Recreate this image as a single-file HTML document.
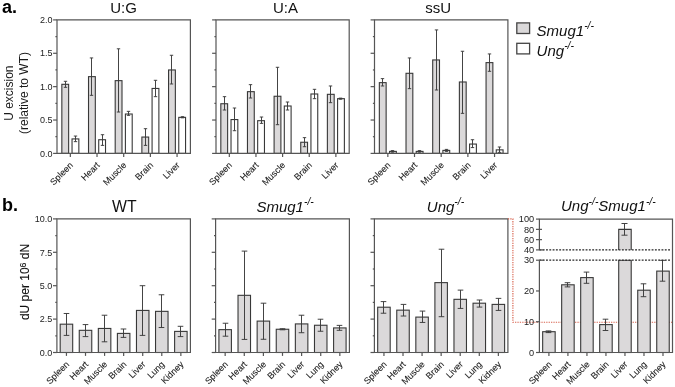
<!DOCTYPE html>
<html><head><meta charset="utf-8"><title>Figure</title>
<style>
html,body{margin:0;padding:0;background:#fff;}
svg{display:block;will-change:transform;font-family:"Liberation Sans", sans-serif;}
</style></head>
<body>
<svg width="675" height="387" viewBox="0 0 675 387">
<rect width="675" height="387" fill="#fff"/>
<text x="2" y="12.6" font-size="18" text-anchor="start" fill="#000" font-weight="bold">a.</text>
<text x="123.6" y="13.3" font-size="15" text-anchor="middle" fill="#111">U:G</text>
<rect x="61.84" y="84.31" width="6.8" height="69.09" fill="#dbd9da" stroke="#383838" stroke-width="1.1"/>
<rect x="72.04" y="138.92" width="6.8" height="14.48" fill="#fff" stroke="#383838" stroke-width="1.1"/>
<line x1="65.5" y1="87.32" x2="65.5" y2="81.31" stroke="#3a3a3a" stroke-width="0.95"/>
<line x1="63.8" y1="81.31" x2="67.2" y2="81.31" stroke="#3a3a3a" stroke-width="0.95"/>
<line x1="63.8" y1="87.32" x2="67.2" y2="87.32" stroke="#3a3a3a" stroke-width="0.95"/>
<line x1="75.5" y1="141.65" x2="75.5" y2="136.05" stroke="#3a3a3a" stroke-width="0.95"/>
<line x1="73.8" y1="136.05" x2="77.2" y2="136.05" stroke="#3a3a3a" stroke-width="0.95"/>
<line x1="73.8" y1="141.65" x2="77.2" y2="141.65" stroke="#3a3a3a" stroke-width="0.95"/>
<rect x="88.52" y="76.64" width="6.8" height="76.76" fill="#dbd9da" stroke="#383838" stroke-width="1.1"/>
<rect x="98.72" y="139.72" width="6.8" height="13.68" fill="#fff" stroke="#383838" stroke-width="1.1"/>
<line x1="91.5" y1="95.33" x2="91.5" y2="57.95" stroke="#3a3a3a" stroke-width="0.95"/>
<line x1="89.8" y1="57.95" x2="93.2" y2="57.95" stroke="#3a3a3a" stroke-width="0.95"/>
<line x1="89.8" y1="95.33" x2="93.2" y2="95.33" stroke="#3a3a3a" stroke-width="0.95"/>
<line x1="102.5" y1="145.39" x2="102.5" y2="134.71" stroke="#3a3a3a" stroke-width="0.95"/>
<line x1="100.8" y1="134.71" x2="104.2" y2="134.71" stroke="#3a3a3a" stroke-width="0.95"/>
<line x1="100.8" y1="145.39" x2="104.2" y2="145.39" stroke="#3a3a3a" stroke-width="0.95"/>
<rect x="115.2" y="80.64" width="6.8" height="72.76" fill="#dbd9da" stroke="#383838" stroke-width="1.1"/>
<rect x="125.4" y="114.02" width="6.8" height="39.38" fill="#fff" stroke="#383838" stroke-width="1.1"/>
<line x1="118.5" y1="112.02" x2="118.5" y2="48.8" stroke="#3a3a3a" stroke-width="0.95"/>
<line x1="116.8" y1="48.8" x2="120.2" y2="48.8" stroke="#3a3a3a" stroke-width="0.95"/>
<line x1="116.8" y1="112.02" x2="120.2" y2="112.02" stroke="#3a3a3a" stroke-width="0.95"/>
<line x1="128.5" y1="115.35" x2="128.5" y2="111.35" stroke="#3a3a3a" stroke-width="0.95"/>
<line x1="126.8" y1="111.35" x2="130.2" y2="111.35" stroke="#3a3a3a" stroke-width="0.95"/>
<line x1="126.8" y1="115.35" x2="130.2" y2="115.35" stroke="#3a3a3a" stroke-width="0.95"/>
<rect x="141.88" y="137.05" width="6.8" height="16.35" fill="#dbd9da" stroke="#383838" stroke-width="1.1"/>
<rect x="152.08" y="88.45" width="6.8" height="64.95" fill="#fff" stroke="#383838" stroke-width="1.1"/>
<line x1="145.5" y1="145.39" x2="145.5" y2="128.7" stroke="#3a3a3a" stroke-width="0.95"/>
<line x1="143.8" y1="128.7" x2="147.2" y2="128.7" stroke="#3a3a3a" stroke-width="0.95"/>
<line x1="143.8" y1="145.39" x2="147.2" y2="145.39" stroke="#3a3a3a" stroke-width="0.95"/>
<line x1="155.5" y1="96.66" x2="155.5" y2="80.31" stroke="#3a3a3a" stroke-width="0.95"/>
<line x1="153.8" y1="80.31" x2="157.2" y2="80.31" stroke="#3a3a3a" stroke-width="0.95"/>
<line x1="153.8" y1="96.66" x2="157.2" y2="96.66" stroke="#3a3a3a" stroke-width="0.95"/>
<rect x="168.56" y="69.96" width="6.8" height="83.44" fill="#dbd9da" stroke="#383838" stroke-width="1.1"/>
<rect x="178.76" y="117.36" width="6.8" height="36.05" fill="#fff" stroke="#383838" stroke-width="1.1"/>
<line x1="171.5" y1="83.98" x2="171.5" y2="55.28" stroke="#3a3a3a" stroke-width="0.95"/>
<line x1="169.8" y1="55.28" x2="173.2" y2="55.28" stroke="#3a3a3a" stroke-width="0.95"/>
<line x1="169.8" y1="83.98" x2="173.2" y2="83.98" stroke="#3a3a3a" stroke-width="0.95"/>
<line x1="182.5" y1="117.82" x2="182.5" y2="116.69" stroke="#3a3a3a" stroke-width="0.95"/>
<line x1="180.8" y1="116.69" x2="184.2" y2="116.69" stroke="#3a3a3a" stroke-width="0.95"/>
<line x1="180.8" y1="117.82" x2="184.2" y2="117.82" stroke="#3a3a3a" stroke-width="0.95"/>
<path d="M57 19.9H190.4V153.4H57Z" fill="none" stroke="#555555" stroke-width="1.2"/>
<line x1="53.1" y1="153.4" x2="57" y2="153.4" stroke="#555555" stroke-width="1.2"/>
<text x="52.4" y="156.6" font-size="9" text-anchor="end" fill="#222">0.0</text>
<line x1="55.4" y1="136.71" x2="57" y2="136.71" stroke="#555555" stroke-width="1.2"/>
<line x1="53.1" y1="120.03" x2="57" y2="120.03" stroke="#555555" stroke-width="1.2"/>
<text x="52.4" y="123.23" font-size="9" text-anchor="end" fill="#222">0.5</text>
<line x1="55.4" y1="103.34" x2="57" y2="103.34" stroke="#555555" stroke-width="1.2"/>
<line x1="53.1" y1="86.65" x2="57" y2="86.65" stroke="#555555" stroke-width="1.2"/>
<text x="52.4" y="89.85" font-size="9" text-anchor="end" fill="#222">1.0</text>
<line x1="55.4" y1="69.96" x2="57" y2="69.96" stroke="#555555" stroke-width="1.2"/>
<line x1="53.1" y1="53.28" x2="57" y2="53.28" stroke="#555555" stroke-width="1.2"/>
<text x="52.4" y="56.48" font-size="9" text-anchor="end" fill="#222">1.5</text>
<line x1="55.4" y1="36.59" x2="57" y2="36.59" stroke="#555555" stroke-width="1.2"/>
<line x1="53.1" y1="19.9" x2="57" y2="19.9" stroke="#555555" stroke-width="1.2"/>
<text x="52.4" y="23.1" font-size="9" text-anchor="end" fill="#222">2.0</text>
<line x1="70.34" y1="153.4" x2="70.34" y2="157" stroke="#555555" stroke-width="1.2"/>
<line x1="97.02" y1="153.4" x2="97.02" y2="157" stroke="#555555" stroke-width="1.2"/>
<line x1="123.7" y1="153.4" x2="123.7" y2="157" stroke="#555555" stroke-width="1.2"/>
<line x1="150.38" y1="153.4" x2="150.38" y2="157" stroke="#555555" stroke-width="1.2"/>
<line x1="177.06" y1="153.4" x2="177.06" y2="157" stroke="#555555" stroke-width="1.2"/>
<text x="73.64" y="165.8" font-size="9.0" text-anchor="end" fill="#1a1a1a" stroke="#1a1a1a" stroke-width="0.1" transform="rotate(-45 73.64 165.8)">Spleen</text>
<text x="100.32" y="165.8" font-size="9.0" text-anchor="end" fill="#1a1a1a" stroke="#1a1a1a" stroke-width="0.1" transform="rotate(-45 100.32 165.8)">Heart</text>
<text x="127" y="165.8" font-size="9.0" text-anchor="end" fill="#1a1a1a" stroke="#1a1a1a" stroke-width="0.1" transform="rotate(-45 127 165.8)">Muscle</text>
<text x="153.68" y="165.8" font-size="9.0" text-anchor="end" fill="#1a1a1a" stroke="#1a1a1a" stroke-width="0.1" transform="rotate(-45 153.68 165.8)">Brain</text>
<text x="180.36" y="165.8" font-size="9.0" text-anchor="end" fill="#1a1a1a" stroke="#1a1a1a" stroke-width="0.1" transform="rotate(-45 180.36 165.8)">Liver</text>
<text x="285.4" y="13.3" font-size="15" text-anchor="middle" fill="#111">U:A</text>
<rect x="220.82" y="103.74" width="6.8" height="49.66" fill="#dbd9da" stroke="#383838" stroke-width="1.1"/>
<rect x="231.02" y="119.56" width="6.8" height="33.84" fill="#fff" stroke="#383838" stroke-width="1.1"/>
<line x1="224.5" y1="110.01" x2="224.5" y2="96.66" stroke="#3a3a3a" stroke-width="0.95"/>
<line x1="222.8" y1="96.66" x2="226.2" y2="96.66" stroke="#3a3a3a" stroke-width="0.95"/>
<line x1="222.8" y1="110.01" x2="226.2" y2="110.01" stroke="#3a3a3a" stroke-width="0.95"/>
<line x1="234.5" y1="130.71" x2="234.5" y2="108.01" stroke="#3a3a3a" stroke-width="0.95"/>
<line x1="232.8" y1="108.01" x2="236.2" y2="108.01" stroke="#3a3a3a" stroke-width="0.95"/>
<line x1="232.8" y1="130.71" x2="236.2" y2="130.71" stroke="#3a3a3a" stroke-width="0.95"/>
<rect x="247.46" y="91.66" width="6.8" height="61.74" fill="#dbd9da" stroke="#383838" stroke-width="1.1"/>
<rect x="257.66" y="120.69" width="6.8" height="32.71" fill="#fff" stroke="#383838" stroke-width="1.1"/>
<line x1="250.5" y1="98" x2="250.5" y2="84.65" stroke="#3a3a3a" stroke-width="0.95"/>
<line x1="248.8" y1="84.65" x2="252.2" y2="84.65" stroke="#3a3a3a" stroke-width="0.95"/>
<line x1="248.8" y1="98" x2="252.2" y2="98" stroke="#3a3a3a" stroke-width="0.95"/>
<line x1="261.5" y1="123.36" x2="261.5" y2="117.02" stroke="#3a3a3a" stroke-width="0.95"/>
<line x1="259.8" y1="117.02" x2="263.2" y2="117.02" stroke="#3a3a3a" stroke-width="0.95"/>
<line x1="259.8" y1="123.36" x2="263.2" y2="123.36" stroke="#3a3a3a" stroke-width="0.95"/>
<rect x="274.1" y="96.26" width="6.8" height="57.14" fill="#dbd9da" stroke="#383838" stroke-width="1.1"/>
<rect x="284.3" y="106.01" width="6.8" height="47.39" fill="#fff" stroke="#383838" stroke-width="1.1"/>
<line x1="277.5" y1="124.7" x2="277.5" y2="67.29" stroke="#3a3a3a" stroke-width="0.95"/>
<line x1="275.8" y1="67.29" x2="279.2" y2="67.29" stroke="#3a3a3a" stroke-width="0.95"/>
<line x1="275.8" y1="124.7" x2="279.2" y2="124.7" stroke="#3a3a3a" stroke-width="0.95"/>
<line x1="287.5" y1="110.01" x2="287.5" y2="102" stroke="#3a3a3a" stroke-width="0.95"/>
<line x1="285.8" y1="102" x2="289.2" y2="102" stroke="#3a3a3a" stroke-width="0.95"/>
<line x1="285.8" y1="110.01" x2="289.2" y2="110.01" stroke="#3a3a3a" stroke-width="0.95"/>
<rect x="300.74" y="142.25" width="6.8" height="11.15" fill="#dbd9da" stroke="#383838" stroke-width="1.1"/>
<rect x="310.94" y="93.99" width="6.8" height="59.41" fill="#fff" stroke="#383838" stroke-width="1.1"/>
<line x1="304.5" y1="146.72" x2="304.5" y2="137.65" stroke="#3a3a3a" stroke-width="0.95"/>
<line x1="302.8" y1="137.65" x2="306.2" y2="137.65" stroke="#3a3a3a" stroke-width="0.95"/>
<line x1="302.8" y1="146.72" x2="306.2" y2="146.72" stroke="#3a3a3a" stroke-width="0.95"/>
<line x1="314.5" y1="98.67" x2="314.5" y2="89.32" stroke="#3a3a3a" stroke-width="0.95"/>
<line x1="312.8" y1="89.32" x2="316.2" y2="89.32" stroke="#3a3a3a" stroke-width="0.95"/>
<line x1="312.8" y1="98.67" x2="316.2" y2="98.67" stroke="#3a3a3a" stroke-width="0.95"/>
<rect x="327.38" y="94.33" width="6.8" height="59.07" fill="#dbd9da" stroke="#383838" stroke-width="1.1"/>
<rect x="337.58" y="98.67" width="6.8" height="54.73" fill="#fff" stroke="#383838" stroke-width="1.1"/>
<line x1="330.5" y1="102.67" x2="330.5" y2="85.98" stroke="#3a3a3a" stroke-width="0.95"/>
<line x1="328.8" y1="85.98" x2="332.2" y2="85.98" stroke="#3a3a3a" stroke-width="0.95"/>
<line x1="328.8" y1="102.67" x2="332.2" y2="102.67" stroke="#3a3a3a" stroke-width="0.95"/>
<line x1="340.5" y1="99.2" x2="340.5" y2="98.13" stroke="#3a3a3a" stroke-width="0.95"/>
<line x1="338.8" y1="98.13" x2="342.2" y2="98.13" stroke="#3a3a3a" stroke-width="0.95"/>
<line x1="338.8" y1="99.2" x2="342.2" y2="99.2" stroke="#3a3a3a" stroke-width="0.95"/>
<path d="M216 19.9H349.2V153.4H216Z" fill="none" stroke="#555555" stroke-width="1.2"/>
<line x1="212.1" y1="153.4" x2="216" y2="153.4" stroke="#555555" stroke-width="1.2"/>
<line x1="214.4" y1="136.71" x2="216" y2="136.71" stroke="#555555" stroke-width="1.2"/>
<line x1="212.1" y1="120.03" x2="216" y2="120.03" stroke="#555555" stroke-width="1.2"/>
<line x1="214.4" y1="103.34" x2="216" y2="103.34" stroke="#555555" stroke-width="1.2"/>
<line x1="212.1" y1="86.65" x2="216" y2="86.65" stroke="#555555" stroke-width="1.2"/>
<line x1="214.4" y1="69.96" x2="216" y2="69.96" stroke="#555555" stroke-width="1.2"/>
<line x1="212.1" y1="53.28" x2="216" y2="53.28" stroke="#555555" stroke-width="1.2"/>
<line x1="214.4" y1="36.59" x2="216" y2="36.59" stroke="#555555" stroke-width="1.2"/>
<line x1="212.1" y1="19.9" x2="216" y2="19.9" stroke="#555555" stroke-width="1.2"/>
<line x1="229.32" y1="153.4" x2="229.32" y2="157" stroke="#555555" stroke-width="1.2"/>
<line x1="255.96" y1="153.4" x2="255.96" y2="157" stroke="#555555" stroke-width="1.2"/>
<line x1="282.6" y1="153.4" x2="282.6" y2="157" stroke="#555555" stroke-width="1.2"/>
<line x1="309.24" y1="153.4" x2="309.24" y2="157" stroke="#555555" stroke-width="1.2"/>
<line x1="335.88" y1="153.4" x2="335.88" y2="157" stroke="#555555" stroke-width="1.2"/>
<text x="232.62" y="165.8" font-size="9.0" text-anchor="end" fill="#1a1a1a" stroke="#1a1a1a" stroke-width="0.1" transform="rotate(-45 232.62 165.8)">Spleen</text>
<text x="259.26" y="165.8" font-size="9.0" text-anchor="end" fill="#1a1a1a" stroke="#1a1a1a" stroke-width="0.1" transform="rotate(-45 259.26 165.8)">Heart</text>
<text x="285.9" y="165.8" font-size="9.0" text-anchor="end" fill="#1a1a1a" stroke="#1a1a1a" stroke-width="0.1" transform="rotate(-45 285.9 165.8)">Muscle</text>
<text x="312.54" y="165.8" font-size="9.0" text-anchor="end" fill="#1a1a1a" stroke="#1a1a1a" stroke-width="0.1" transform="rotate(-45 312.54 165.8)">Brain</text>
<text x="339.18" y="165.8" font-size="9.0" text-anchor="end" fill="#1a1a1a" stroke="#1a1a1a" stroke-width="0.1" transform="rotate(-45 339.18 165.8)">Liver</text>
<text x="438.2" y="13.3" font-size="15" text-anchor="middle" fill="#111">ssU</text>
<rect x="379.34" y="82.64" width="6.8" height="70.76" fill="#dbd9da" stroke="#383838" stroke-width="1.1"/>
<rect x="389.54" y="151.4" width="6.8" height="2" fill="#fff" stroke="#383838" stroke-width="1.1"/>
<line x1="382.5" y1="85.98" x2="382.5" y2="78.64" stroke="#3a3a3a" stroke-width="0.95"/>
<line x1="380.8" y1="78.64" x2="384.2" y2="78.64" stroke="#3a3a3a" stroke-width="0.95"/>
<line x1="380.8" y1="85.98" x2="384.2" y2="85.98" stroke="#3a3a3a" stroke-width="0.95"/>
<line x1="392.5" y1="152.2" x2="392.5" y2="150.6" stroke="#3a3a3a" stroke-width="0.95"/>
<line x1="390.8" y1="150.6" x2="394.2" y2="150.6" stroke="#3a3a3a" stroke-width="0.95"/>
<line x1="390.8" y1="152.2" x2="394.2" y2="152.2" stroke="#3a3a3a" stroke-width="0.95"/>
<rect x="406.02" y="73.3" width="6.8" height="80.1" fill="#dbd9da" stroke="#383838" stroke-width="1.1"/>
<rect x="416.22" y="151.4" width="6.8" height="2" fill="#fff" stroke="#383838" stroke-width="1.1"/>
<line x1="409.5" y1="88.65" x2="409.5" y2="57.95" stroke="#3a3a3a" stroke-width="0.95"/>
<line x1="407.8" y1="57.95" x2="411.2" y2="57.95" stroke="#3a3a3a" stroke-width="0.95"/>
<line x1="407.8" y1="88.65" x2="411.2" y2="88.65" stroke="#3a3a3a" stroke-width="0.95"/>
<line x1="419.5" y1="152.2" x2="419.5" y2="150.6" stroke="#3a3a3a" stroke-width="0.95"/>
<line x1="417.8" y1="150.6" x2="421.2" y2="150.6" stroke="#3a3a3a" stroke-width="0.95"/>
<line x1="417.8" y1="152.2" x2="421.2" y2="152.2" stroke="#3a3a3a" stroke-width="0.95"/>
<rect x="432.7" y="59.95" width="6.8" height="93.45" fill="#dbd9da" stroke="#383838" stroke-width="1.1"/>
<rect x="442.9" y="150.4" width="6.8" height="3" fill="#fff" stroke="#383838" stroke-width="1.1"/>
<line x1="436.5" y1="89.99" x2="436.5" y2="29.91" stroke="#3a3a3a" stroke-width="0.95"/>
<line x1="434.8" y1="29.91" x2="438.2" y2="29.91" stroke="#3a3a3a" stroke-width="0.95"/>
<line x1="434.8" y1="89.99" x2="438.2" y2="89.99" stroke="#3a3a3a" stroke-width="0.95"/>
<line x1="446.5" y1="151.4" x2="446.5" y2="149.4" stroke="#3a3a3a" stroke-width="0.95"/>
<line x1="444.8" y1="149.4" x2="448.2" y2="149.4" stroke="#3a3a3a" stroke-width="0.95"/>
<line x1="444.8" y1="151.4" x2="448.2" y2="151.4" stroke="#3a3a3a" stroke-width="0.95"/>
<rect x="459.38" y="81.98" width="6.8" height="71.42" fill="#dbd9da" stroke="#383838" stroke-width="1.1"/>
<rect x="469.58" y="144.06" width="6.8" height="9.34" fill="#fff" stroke="#383838" stroke-width="1.1"/>
<line x1="462.5" y1="113.35" x2="462.5" y2="51.27" stroke="#3a3a3a" stroke-width="0.95"/>
<line x1="460.8" y1="51.27" x2="464.2" y2="51.27" stroke="#3a3a3a" stroke-width="0.95"/>
<line x1="460.8" y1="113.35" x2="464.2" y2="113.35" stroke="#3a3a3a" stroke-width="0.95"/>
<line x1="472.5" y1="147.59" x2="472.5" y2="139.72" stroke="#3a3a3a" stroke-width="0.95"/>
<line x1="470.8" y1="139.72" x2="474.2" y2="139.72" stroke="#3a3a3a" stroke-width="0.95"/>
<line x1="470.8" y1="147.59" x2="474.2" y2="147.59" stroke="#3a3a3a" stroke-width="0.95"/>
<rect x="486.06" y="62.62" width="6.8" height="90.78" fill="#dbd9da" stroke="#383838" stroke-width="1.1"/>
<rect x="496.26" y="149.86" width="6.8" height="3.54" fill="#fff" stroke="#383838" stroke-width="1.1"/>
<line x1="489.5" y1="71.3" x2="489.5" y2="53.94" stroke="#3a3a3a" stroke-width="0.95"/>
<line x1="487.8" y1="53.94" x2="491.2" y2="53.94" stroke="#3a3a3a" stroke-width="0.95"/>
<line x1="487.8" y1="71.3" x2="491.2" y2="71.3" stroke="#3a3a3a" stroke-width="0.95"/>
<line x1="499.5" y1="152.4" x2="499.5" y2="146.99" stroke="#3a3a3a" stroke-width="0.95"/>
<line x1="497.8" y1="146.99" x2="501.2" y2="146.99" stroke="#3a3a3a" stroke-width="0.95"/>
<line x1="497.8" y1="152.4" x2="501.2" y2="152.4" stroke="#3a3a3a" stroke-width="0.95"/>
<path d="M374.5 19.9H507.9V153.4H374.5Z" fill="none" stroke="#555555" stroke-width="1.2"/>
<line x1="370.6" y1="153.4" x2="374.5" y2="153.4" stroke="#555555" stroke-width="1.2"/>
<line x1="372.9" y1="136.71" x2="374.5" y2="136.71" stroke="#555555" stroke-width="1.2"/>
<line x1="370.6" y1="120.03" x2="374.5" y2="120.03" stroke="#555555" stroke-width="1.2"/>
<line x1="372.9" y1="103.34" x2="374.5" y2="103.34" stroke="#555555" stroke-width="1.2"/>
<line x1="370.6" y1="86.65" x2="374.5" y2="86.65" stroke="#555555" stroke-width="1.2"/>
<line x1="372.9" y1="69.96" x2="374.5" y2="69.96" stroke="#555555" stroke-width="1.2"/>
<line x1="370.6" y1="53.28" x2="374.5" y2="53.28" stroke="#555555" stroke-width="1.2"/>
<line x1="372.9" y1="36.59" x2="374.5" y2="36.59" stroke="#555555" stroke-width="1.2"/>
<line x1="370.6" y1="19.9" x2="374.5" y2="19.9" stroke="#555555" stroke-width="1.2"/>
<line x1="387.84" y1="153.4" x2="387.84" y2="157" stroke="#555555" stroke-width="1.2"/>
<line x1="414.52" y1="153.4" x2="414.52" y2="157" stroke="#555555" stroke-width="1.2"/>
<line x1="441.2" y1="153.4" x2="441.2" y2="157" stroke="#555555" stroke-width="1.2"/>
<line x1="467.88" y1="153.4" x2="467.88" y2="157" stroke="#555555" stroke-width="1.2"/>
<line x1="494.56" y1="153.4" x2="494.56" y2="157" stroke="#555555" stroke-width="1.2"/>
<text x="391.14" y="165.8" font-size="9.0" text-anchor="end" fill="#1a1a1a" stroke="#1a1a1a" stroke-width="0.1" transform="rotate(-45 391.14 165.8)">Spleen</text>
<text x="417.82" y="165.8" font-size="9.0" text-anchor="end" fill="#1a1a1a" stroke="#1a1a1a" stroke-width="0.1" transform="rotate(-45 417.82 165.8)">Heart</text>
<text x="444.5" y="165.8" font-size="9.0" text-anchor="end" fill="#1a1a1a" stroke="#1a1a1a" stroke-width="0.1" transform="rotate(-45 444.5 165.8)">Muscle</text>
<text x="471.18" y="165.8" font-size="9.0" text-anchor="end" fill="#1a1a1a" stroke="#1a1a1a" stroke-width="0.1" transform="rotate(-45 471.18 165.8)">Brain</text>
<text x="497.86" y="165.8" font-size="9.0" text-anchor="end" fill="#1a1a1a" stroke="#1a1a1a" stroke-width="0.1" transform="rotate(-45 497.86 165.8)">Liver</text>
<text transform="translate(12.8 93.2) rotate(-90)" font-size="12" text-anchor="middle" fill="#1a1a1a">U excision</text>
<text transform="translate(28.2 93) rotate(-90)" font-size="12" text-anchor="middle" fill="#1a1a1a">(relative to WT)</text>
<rect x="516.8" y="22.9" width="12.8" height="10.6" fill="#dbd9da" stroke="#444" stroke-width="1.3"/>
<rect x="516.8" y="43.3" width="12.8" height="10.6" fill="#fff" stroke="#444" stroke-width="1.3"/>
<text x="536.6" y="35.6" font-size="15" font-style="italic" fill="#111">Smug1<tspan font-size="10.4" dy="-6.5">-/-</tspan></text>
<text x="536.6" y="55.8" font-size="15" font-style="italic" fill="#111">Ung<tspan font-size="10.4" dy="-6.5">-/-</tspan></text>
<text x="2" y="210.7" font-size="18" text-anchor="start" fill="#000" font-weight="bold">b.</text>
<text x="124.3" y="211.9" font-size="15.8" text-anchor="middle" fill="#111">WT</text>
<text x="256.4" y="211.6" font-size="15" font-style="italic" fill="#111">Smug1<tspan font-size="10.4" dy="-6.5">-/-</tspan></text>
<text x="426.8" y="211.6" font-size="15" font-style="italic" fill="#111">Ung<tspan font-size="10.4" dy="-6.5">-/-</tspan></text>
<text x="561" y="211.4" font-size="15" font-style="italic" fill="#111">Ung<tspan font-size="10.4" dy="-6.5">-/-</tspan><tspan dy="6.5">Smug1</tspan><tspan font-size="10.4" dy="-6.5">-/-</tspan></text>
<rect x="60.19" y="324.18" width="12.5" height="28.32" fill="#dbd9da" stroke="#383838" stroke-width="1.1"/>
<line x1="66.5" y1="335.4" x2="66.5" y2="313.49" stroke="#3a3a3a" stroke-width="0.95"/>
<line x1="63.7" y1="313.49" x2="69.3" y2="313.49" stroke="#3a3a3a" stroke-width="0.95"/>
<line x1="63.7" y1="335.4" x2="69.3" y2="335.4" stroke="#3a3a3a" stroke-width="0.95"/>
<rect x="79.26" y="330.32" width="12.5" height="22.18" fill="#dbd9da" stroke="#383838" stroke-width="1.1"/>
<line x1="85.5" y1="336.6" x2="85.5" y2="324.58" stroke="#3a3a3a" stroke-width="0.95"/>
<line x1="82.7" y1="324.58" x2="88.3" y2="324.58" stroke="#3a3a3a" stroke-width="0.95"/>
<line x1="82.7" y1="336.6" x2="88.3" y2="336.6" stroke="#3a3a3a" stroke-width="0.95"/>
<rect x="98.33" y="328.45" width="12.5" height="24.05" fill="#dbd9da" stroke="#383838" stroke-width="1.1"/>
<line x1="104.5" y1="341.81" x2="104.5" y2="315.23" stroke="#3a3a3a" stroke-width="0.95"/>
<line x1="101.7" y1="315.23" x2="107.3" y2="315.23" stroke="#3a3a3a" stroke-width="0.95"/>
<line x1="101.7" y1="341.81" x2="107.3" y2="341.81" stroke="#3a3a3a" stroke-width="0.95"/>
<rect x="117.4" y="333.4" width="12.5" height="19.1" fill="#dbd9da" stroke="#383838" stroke-width="1.1"/>
<line x1="123.5" y1="337.4" x2="123.5" y2="328.99" stroke="#3a3a3a" stroke-width="0.95"/>
<line x1="120.7" y1="328.99" x2="126.3" y2="328.99" stroke="#3a3a3a" stroke-width="0.95"/>
<line x1="120.7" y1="337.4" x2="126.3" y2="337.4" stroke="#3a3a3a" stroke-width="0.95"/>
<rect x="136.47" y="310.42" width="12.5" height="42.08" fill="#dbd9da" stroke="#383838" stroke-width="1.1"/>
<line x1="142.5" y1="335.4" x2="142.5" y2="285.7" stroke="#3a3a3a" stroke-width="0.95"/>
<line x1="139.7" y1="285.7" x2="145.3" y2="285.7" stroke="#3a3a3a" stroke-width="0.95"/>
<line x1="139.7" y1="335.4" x2="145.3" y2="335.4" stroke="#3a3a3a" stroke-width="0.95"/>
<rect x="155.54" y="311.35" width="12.5" height="41.15" fill="#dbd9da" stroke="#383838" stroke-width="1.1"/>
<line x1="161.5" y1="327.52" x2="161.5" y2="294.78" stroke="#3a3a3a" stroke-width="0.95"/>
<line x1="158.7" y1="294.78" x2="164.3" y2="294.78" stroke="#3a3a3a" stroke-width="0.95"/>
<line x1="158.7" y1="327.52" x2="164.3" y2="327.52" stroke="#3a3a3a" stroke-width="0.95"/>
<rect x="174.61" y="331.39" width="12.5" height="21.11" fill="#dbd9da" stroke="#383838" stroke-width="1.1"/>
<line x1="180.5" y1="336.6" x2="180.5" y2="326.31" stroke="#3a3a3a" stroke-width="0.95"/>
<line x1="177.7" y1="326.31" x2="183.3" y2="326.31" stroke="#3a3a3a" stroke-width="0.95"/>
<line x1="177.7" y1="336.6" x2="183.3" y2="336.6" stroke="#3a3a3a" stroke-width="0.95"/>
<path d="M56.9 218.9H190.4V352.5H56.9Z" fill="none" stroke="#555555" stroke-width="1.2"/>
<line x1="53" y1="352.5" x2="56.9" y2="352.5" stroke="#555555" stroke-width="1.2"/>
<text x="52.3" y="355.7" font-size="9" text-anchor="end" fill="#222">0.0</text>
<line x1="55.3" y1="335.8" x2="56.9" y2="335.8" stroke="#555555" stroke-width="1.2"/>
<line x1="53" y1="319.1" x2="56.9" y2="319.1" stroke="#555555" stroke-width="1.2"/>
<text x="52.3" y="322.3" font-size="9" text-anchor="end" fill="#222">2.5</text>
<line x1="55.3" y1="302.4" x2="56.9" y2="302.4" stroke="#555555" stroke-width="1.2"/>
<line x1="53" y1="285.7" x2="56.9" y2="285.7" stroke="#555555" stroke-width="1.2"/>
<text x="52.3" y="288.9" font-size="9" text-anchor="end" fill="#222">5.0</text>
<line x1="55.3" y1="269" x2="56.9" y2="269" stroke="#555555" stroke-width="1.2"/>
<line x1="53" y1="252.3" x2="56.9" y2="252.3" stroke="#555555" stroke-width="1.2"/>
<text x="52.3" y="255.5" font-size="9" text-anchor="end" fill="#222">7.5</text>
<line x1="55.3" y1="235.6" x2="56.9" y2="235.6" stroke="#555555" stroke-width="1.2"/>
<line x1="53" y1="218.9" x2="56.9" y2="218.9" stroke="#555555" stroke-width="1.2"/>
<text x="52.3" y="222.1" font-size="9" text-anchor="end" fill="#222">10.0</text>
<line x1="66.44" y1="352.5" x2="66.44" y2="355.9" stroke="#555555" stroke-width="1.2"/>
<line x1="85.51" y1="352.5" x2="85.51" y2="355.9" stroke="#555555" stroke-width="1.2"/>
<line x1="104.58" y1="352.5" x2="104.58" y2="355.9" stroke="#555555" stroke-width="1.2"/>
<line x1="123.65" y1="352.5" x2="123.65" y2="355.9" stroke="#555555" stroke-width="1.2"/>
<line x1="142.72" y1="352.5" x2="142.72" y2="355.9" stroke="#555555" stroke-width="1.2"/>
<line x1="161.79" y1="352.5" x2="161.79" y2="355.9" stroke="#555555" stroke-width="1.2"/>
<line x1="180.86" y1="352.5" x2="180.86" y2="355.9" stroke="#555555" stroke-width="1.2"/>
<text x="69.74" y="364.9" font-size="9.0" text-anchor="end" fill="#1a1a1a" stroke="#1a1a1a" stroke-width="0.1" transform="rotate(-45 69.74 364.9)">Spleen</text>
<text x="88.81" y="364.9" font-size="9.0" text-anchor="end" fill="#1a1a1a" stroke="#1a1a1a" stroke-width="0.1" transform="rotate(-45 88.81 364.9)">Heart</text>
<text x="107.88" y="364.9" font-size="9.0" text-anchor="end" fill="#1a1a1a" stroke="#1a1a1a" stroke-width="0.1" transform="rotate(-45 107.88 364.9)">Muscle</text>
<text x="126.95" y="364.9" font-size="9.0" text-anchor="end" fill="#1a1a1a" stroke="#1a1a1a" stroke-width="0.1" transform="rotate(-45 126.95 364.9)">Brain</text>
<text x="146.02" y="364.9" font-size="9.0" text-anchor="end" fill="#1a1a1a" stroke="#1a1a1a" stroke-width="0.1" transform="rotate(-45 146.02 364.9)">Liver</text>
<text x="165.09" y="364.9" font-size="9.0" text-anchor="end" fill="#1a1a1a" stroke="#1a1a1a" stroke-width="0.1" transform="rotate(-45 165.09 364.9)">Lung</text>
<text x="184.16" y="364.9" font-size="9.0" text-anchor="end" fill="#1a1a1a" stroke="#1a1a1a" stroke-width="0.1" transform="rotate(-45 184.16 364.9)">Kidney</text>
<rect x="218.91" y="329.65" width="12.5" height="22.85" fill="#dbd9da" stroke="#383838" stroke-width="1.1"/>
<line x1="225.5" y1="336.2" x2="225.5" y2="323.24" stroke="#3a3a3a" stroke-width="0.95"/>
<line x1="222.7" y1="323.24" x2="228.3" y2="323.24" stroke="#3a3a3a" stroke-width="0.95"/>
<line x1="222.7" y1="336.2" x2="228.3" y2="336.2" stroke="#3a3a3a" stroke-width="0.95"/>
<rect x="238.02" y="295.32" width="12.5" height="57.18" fill="#dbd9da" stroke="#383838" stroke-width="1.1"/>
<line x1="244.5" y1="339.41" x2="244.5" y2="251.1" stroke="#3a3a3a" stroke-width="0.95"/>
<line x1="241.7" y1="251.1" x2="247.3" y2="251.1" stroke="#3a3a3a" stroke-width="0.95"/>
<line x1="241.7" y1="339.41" x2="247.3" y2="339.41" stroke="#3a3a3a" stroke-width="0.95"/>
<rect x="257.14" y="321.1" width="12.5" height="31.4" fill="#dbd9da" stroke="#383838" stroke-width="1.1"/>
<line x1="263.5" y1="339.27" x2="263.5" y2="303.2" stroke="#3a3a3a" stroke-width="0.95"/>
<line x1="260.7" y1="303.2" x2="266.3" y2="303.2" stroke="#3a3a3a" stroke-width="0.95"/>
<line x1="260.7" y1="339.27" x2="266.3" y2="339.27" stroke="#3a3a3a" stroke-width="0.95"/>
<rect x="276.25" y="329.25" width="12.5" height="23.25" fill="#dbd9da" stroke="#383838" stroke-width="1.1"/>
<line x1="282.5" y1="329.79" x2="282.5" y2="328.72" stroke="#3a3a3a" stroke-width="0.95"/>
<line x1="279.7" y1="328.72" x2="285.3" y2="328.72" stroke="#3a3a3a" stroke-width="0.95"/>
<line x1="279.7" y1="329.79" x2="285.3" y2="329.79" stroke="#3a3a3a" stroke-width="0.95"/>
<rect x="295.36" y="323.91" width="12.5" height="28.59" fill="#dbd9da" stroke="#383838" stroke-width="1.1"/>
<line x1="301.5" y1="332.73" x2="301.5" y2="315.23" stroke="#3a3a3a" stroke-width="0.95"/>
<line x1="298.7" y1="315.23" x2="304.3" y2="315.23" stroke="#3a3a3a" stroke-width="0.95"/>
<line x1="298.7" y1="332.73" x2="304.3" y2="332.73" stroke="#3a3a3a" stroke-width="0.95"/>
<rect x="314.48" y="325.25" width="12.5" height="27.25" fill="#dbd9da" stroke="#383838" stroke-width="1.1"/>
<line x1="320.5" y1="331.26" x2="320.5" y2="319.23" stroke="#3a3a3a" stroke-width="0.95"/>
<line x1="317.7" y1="319.23" x2="323.3" y2="319.23" stroke="#3a3a3a" stroke-width="0.95"/>
<line x1="317.7" y1="331.26" x2="323.3" y2="331.26" stroke="#3a3a3a" stroke-width="0.95"/>
<rect x="333.59" y="327.92" width="12.5" height="24.58" fill="#dbd9da" stroke="#383838" stroke-width="1.1"/>
<line x1="339.5" y1="330.32" x2="339.5" y2="325.38" stroke="#3a3a3a" stroke-width="0.95"/>
<line x1="336.7" y1="325.38" x2="342.3" y2="325.38" stroke="#3a3a3a" stroke-width="0.95"/>
<line x1="336.7" y1="330.32" x2="342.3" y2="330.32" stroke="#3a3a3a" stroke-width="0.95"/>
<path d="M215.6 218.9H349.4V352.5H215.6Z" fill="none" stroke="#555555" stroke-width="1.2"/>
<line x1="211.7" y1="352.5" x2="215.6" y2="352.5" stroke="#555555" stroke-width="1.2"/>
<line x1="214" y1="335.8" x2="215.6" y2="335.8" stroke="#555555" stroke-width="1.2"/>
<line x1="211.7" y1="319.1" x2="215.6" y2="319.1" stroke="#555555" stroke-width="1.2"/>
<line x1="214" y1="302.4" x2="215.6" y2="302.4" stroke="#555555" stroke-width="1.2"/>
<line x1="211.7" y1="285.7" x2="215.6" y2="285.7" stroke="#555555" stroke-width="1.2"/>
<line x1="214" y1="269" x2="215.6" y2="269" stroke="#555555" stroke-width="1.2"/>
<line x1="211.7" y1="252.3" x2="215.6" y2="252.3" stroke="#555555" stroke-width="1.2"/>
<line x1="214" y1="235.6" x2="215.6" y2="235.6" stroke="#555555" stroke-width="1.2"/>
<line x1="211.7" y1="218.9" x2="215.6" y2="218.9" stroke="#555555" stroke-width="1.2"/>
<line x1="225.16" y1="352.5" x2="225.16" y2="355.9" stroke="#555555" stroke-width="1.2"/>
<line x1="244.27" y1="352.5" x2="244.27" y2="355.9" stroke="#555555" stroke-width="1.2"/>
<line x1="263.39" y1="352.5" x2="263.39" y2="355.9" stroke="#555555" stroke-width="1.2"/>
<line x1="282.5" y1="352.5" x2="282.5" y2="355.9" stroke="#555555" stroke-width="1.2"/>
<line x1="301.61" y1="352.5" x2="301.61" y2="355.9" stroke="#555555" stroke-width="1.2"/>
<line x1="320.73" y1="352.5" x2="320.73" y2="355.9" stroke="#555555" stroke-width="1.2"/>
<line x1="339.84" y1="352.5" x2="339.84" y2="355.9" stroke="#555555" stroke-width="1.2"/>
<text x="228.46" y="364.9" font-size="9.0" text-anchor="end" fill="#1a1a1a" stroke="#1a1a1a" stroke-width="0.1" transform="rotate(-45 228.46 364.9)">Spleen</text>
<text x="247.57" y="364.9" font-size="9.0" text-anchor="end" fill="#1a1a1a" stroke="#1a1a1a" stroke-width="0.1" transform="rotate(-45 247.57 364.9)">Heart</text>
<text x="266.69" y="364.9" font-size="9.0" text-anchor="end" fill="#1a1a1a" stroke="#1a1a1a" stroke-width="0.1" transform="rotate(-45 266.69 364.9)">Muscle</text>
<text x="285.8" y="364.9" font-size="9.0" text-anchor="end" fill="#1a1a1a" stroke="#1a1a1a" stroke-width="0.1" transform="rotate(-45 285.8 364.9)">Brain</text>
<text x="304.91" y="364.9" font-size="9.0" text-anchor="end" fill="#1a1a1a" stroke="#1a1a1a" stroke-width="0.1" transform="rotate(-45 304.91 364.9)">Liver</text>
<text x="324.03" y="364.9" font-size="9.0" text-anchor="end" fill="#1a1a1a" stroke="#1a1a1a" stroke-width="0.1" transform="rotate(-45 324.03 364.9)">Lung</text>
<text x="343.14" y="364.9" font-size="9.0" text-anchor="end" fill="#1a1a1a" stroke="#1a1a1a" stroke-width="0.1" transform="rotate(-45 343.14 364.9)">Kidney</text>
<rect x="377.69" y="307.21" width="12.5" height="45.29" fill="#dbd9da" stroke="#383838" stroke-width="1.1"/>
<line x1="383.5" y1="313.22" x2="383.5" y2="301.6" stroke="#3a3a3a" stroke-width="0.95"/>
<line x1="380.7" y1="301.6" x2="386.3" y2="301.6" stroke="#3a3a3a" stroke-width="0.95"/>
<line x1="380.7" y1="313.22" x2="386.3" y2="313.22" stroke="#3a3a3a" stroke-width="0.95"/>
<rect x="396.76" y="310.15" width="12.5" height="42.35" fill="#dbd9da" stroke="#383838" stroke-width="1.1"/>
<line x1="403.5" y1="316.03" x2="403.5" y2="304.4" stroke="#3a3a3a" stroke-width="0.95"/>
<line x1="400.7" y1="304.4" x2="406.3" y2="304.4" stroke="#3a3a3a" stroke-width="0.95"/>
<line x1="400.7" y1="316.03" x2="406.3" y2="316.03" stroke="#3a3a3a" stroke-width="0.95"/>
<rect x="415.83" y="317.1" width="12.5" height="35.4" fill="#dbd9da" stroke="#383838" stroke-width="1.1"/>
<line x1="422.5" y1="322.44" x2="422.5" y2="311.08" stroke="#3a3a3a" stroke-width="0.95"/>
<line x1="419.7" y1="311.08" x2="425.3" y2="311.08" stroke="#3a3a3a" stroke-width="0.95"/>
<line x1="419.7" y1="322.44" x2="425.3" y2="322.44" stroke="#3a3a3a" stroke-width="0.95"/>
<rect x="434.9" y="282.63" width="12.5" height="69.87" fill="#dbd9da" stroke="#383838" stroke-width="1.1"/>
<line x1="441.5" y1="316.7" x2="441.5" y2="249.23" stroke="#3a3a3a" stroke-width="0.95"/>
<line x1="438.7" y1="249.23" x2="444.3" y2="249.23" stroke="#3a3a3a" stroke-width="0.95"/>
<line x1="438.7" y1="316.7" x2="444.3" y2="316.7" stroke="#3a3a3a" stroke-width="0.95"/>
<rect x="453.97" y="299.33" width="12.5" height="53.17" fill="#dbd9da" stroke="#383838" stroke-width="1.1"/>
<line x1="460.5" y1="308.41" x2="460.5" y2="290.11" stroke="#3a3a3a" stroke-width="0.95"/>
<line x1="457.7" y1="290.11" x2="463.3" y2="290.11" stroke="#3a3a3a" stroke-width="0.95"/>
<line x1="457.7" y1="308.41" x2="463.3" y2="308.41" stroke="#3a3a3a" stroke-width="0.95"/>
<rect x="473.04" y="303.2" width="12.5" height="49.3" fill="#dbd9da" stroke="#383838" stroke-width="1.1"/>
<line x1="479.5" y1="307.08" x2="479.5" y2="300" stroke="#3a3a3a" stroke-width="0.95"/>
<line x1="476.7" y1="300" x2="482.3" y2="300" stroke="#3a3a3a" stroke-width="0.95"/>
<line x1="476.7" y1="307.08" x2="482.3" y2="307.08" stroke="#3a3a3a" stroke-width="0.95"/>
<rect x="492.11" y="304.4" width="12.5" height="48.1" fill="#dbd9da" stroke="#383838" stroke-width="1.1"/>
<line x1="498.5" y1="310.42" x2="498.5" y2="298.39" stroke="#3a3a3a" stroke-width="0.95"/>
<line x1="495.7" y1="298.39" x2="501.3" y2="298.39" stroke="#3a3a3a" stroke-width="0.95"/>
<line x1="495.7" y1="310.42" x2="501.3" y2="310.42" stroke="#3a3a3a" stroke-width="0.95"/>
<path d="M374.4 218.9H507.9V352.5H374.4Z" fill="none" stroke="#555555" stroke-width="1.2"/>
<line x1="370.5" y1="352.5" x2="374.4" y2="352.5" stroke="#555555" stroke-width="1.2"/>
<line x1="372.8" y1="335.8" x2="374.4" y2="335.8" stroke="#555555" stroke-width="1.2"/>
<line x1="370.5" y1="319.1" x2="374.4" y2="319.1" stroke="#555555" stroke-width="1.2"/>
<line x1="372.8" y1="302.4" x2="374.4" y2="302.4" stroke="#555555" stroke-width="1.2"/>
<line x1="370.5" y1="285.7" x2="374.4" y2="285.7" stroke="#555555" stroke-width="1.2"/>
<line x1="372.8" y1="269" x2="374.4" y2="269" stroke="#555555" stroke-width="1.2"/>
<line x1="370.5" y1="252.3" x2="374.4" y2="252.3" stroke="#555555" stroke-width="1.2"/>
<line x1="372.8" y1="235.6" x2="374.4" y2="235.6" stroke="#555555" stroke-width="1.2"/>
<line x1="370.5" y1="218.9" x2="374.4" y2="218.9" stroke="#555555" stroke-width="1.2"/>
<line x1="383.94" y1="352.5" x2="383.94" y2="355.9" stroke="#555555" stroke-width="1.2"/>
<line x1="403.01" y1="352.5" x2="403.01" y2="355.9" stroke="#555555" stroke-width="1.2"/>
<line x1="422.08" y1="352.5" x2="422.08" y2="355.9" stroke="#555555" stroke-width="1.2"/>
<line x1="441.15" y1="352.5" x2="441.15" y2="355.9" stroke="#555555" stroke-width="1.2"/>
<line x1="460.22" y1="352.5" x2="460.22" y2="355.9" stroke="#555555" stroke-width="1.2"/>
<line x1="479.29" y1="352.5" x2="479.29" y2="355.9" stroke="#555555" stroke-width="1.2"/>
<line x1="498.36" y1="352.5" x2="498.36" y2="355.9" stroke="#555555" stroke-width="1.2"/>
<text x="387.24" y="364.9" font-size="9.0" text-anchor="end" fill="#1a1a1a" stroke="#1a1a1a" stroke-width="0.1" transform="rotate(-45 387.24 364.9)">Spleen</text>
<text x="406.31" y="364.9" font-size="9.0" text-anchor="end" fill="#1a1a1a" stroke="#1a1a1a" stroke-width="0.1" transform="rotate(-45 406.31 364.9)">Heart</text>
<text x="425.38" y="364.9" font-size="9.0" text-anchor="end" fill="#1a1a1a" stroke="#1a1a1a" stroke-width="0.1" transform="rotate(-45 425.38 364.9)">Muscle</text>
<text x="444.45" y="364.9" font-size="9.0" text-anchor="end" fill="#1a1a1a" stroke="#1a1a1a" stroke-width="0.1" transform="rotate(-45 444.45 364.9)">Brain</text>
<text x="463.52" y="364.9" font-size="9.0" text-anchor="end" fill="#1a1a1a" stroke="#1a1a1a" stroke-width="0.1" transform="rotate(-45 463.52 364.9)">Liver</text>
<text x="482.59" y="364.9" font-size="9.0" text-anchor="end" fill="#1a1a1a" stroke="#1a1a1a" stroke-width="0.1" transform="rotate(-45 482.59 364.9)">Lung</text>
<text x="501.66" y="364.9" font-size="9.0" text-anchor="end" fill="#1a1a1a" stroke="#1a1a1a" stroke-width="0.1" transform="rotate(-45 501.66 364.9)">Kidney</text>
<text transform="translate(29.4 282) rotate(-90)" font-size="12" text-anchor="middle" fill="#111" stroke="#111" stroke-width="0.12">dU per 10<tspan font-size="8.6" dy="-3.4">6</tspan><tspan dy="3.4"> dN</tspan></text>
<path d="M507.9 218.9H512.9V322.2H672.5" fill="none" stroke="#d8634f" stroke-width="1.15" stroke-dasharray="1.3 1.1"/>
<rect x="542.66" y="331.7" width="12.5" height="20.8" fill="#dbd9da" stroke="#383838" stroke-width="1.1"/>
<line x1="548.5" y1="332.6" x2="548.5" y2="330.9" stroke="#3a3a3a" stroke-width="0.95"/>
<line x1="545.7" y1="330.9" x2="551.3" y2="330.9" stroke="#3a3a3a" stroke-width="0.95"/>
<line x1="545.7" y1="332.6" x2="551.3" y2="332.6" stroke="#3a3a3a" stroke-width="0.95"/>
<rect x="561.67" y="284.8" width="12.5" height="67.7" fill="#dbd9da" stroke="#383838" stroke-width="1.1"/>
<line x1="567.5" y1="286.9" x2="567.5" y2="282.7" stroke="#3a3a3a" stroke-width="0.95"/>
<line x1="564.7" y1="282.7" x2="570.3" y2="282.7" stroke="#3a3a3a" stroke-width="0.95"/>
<line x1="564.7" y1="286.9" x2="570.3" y2="286.9" stroke="#3a3a3a" stroke-width="0.95"/>
<rect x="580.69" y="277.6" width="12.5" height="74.9" fill="#dbd9da" stroke="#383838" stroke-width="1.1"/>
<line x1="586.5" y1="283.3" x2="586.5" y2="272.1" stroke="#3a3a3a" stroke-width="0.95"/>
<line x1="583.7" y1="272.1" x2="589.3" y2="272.1" stroke="#3a3a3a" stroke-width="0.95"/>
<line x1="583.7" y1="283.3" x2="589.3" y2="283.3" stroke="#3a3a3a" stroke-width="0.95"/>
<rect x="599.7" y="324.6" width="12.5" height="27.9" fill="#dbd9da" stroke="#383838" stroke-width="1.1"/>
<line x1="605.5" y1="330.5" x2="605.5" y2="319.2" stroke="#3a3a3a" stroke-width="0.95"/>
<line x1="602.7" y1="319.2" x2="608.3" y2="319.2" stroke="#3a3a3a" stroke-width="0.95"/>
<line x1="602.7" y1="330.5" x2="608.3" y2="330.5" stroke="#3a3a3a" stroke-width="0.95"/>
<rect x="637.73" y="290.2" width="12.5" height="62.3" fill="#dbd9da" stroke="#383838" stroke-width="1.1"/>
<line x1="643.5" y1="296.7" x2="643.5" y2="283.8" stroke="#3a3a3a" stroke-width="0.95"/>
<line x1="640.7" y1="283.8" x2="646.3" y2="283.8" stroke="#3a3a3a" stroke-width="0.95"/>
<line x1="640.7" y1="296.7" x2="646.3" y2="296.7" stroke="#3a3a3a" stroke-width="0.95"/>
<rect x="656.74" y="271.1" width="12.5" height="81.4" fill="#dbd9da" stroke="#383838" stroke-width="1.1"/>
<line x1="662.5" y1="281.2" x2="662.5" y2="260.3" stroke="#3a3a3a" stroke-width="0.95"/>
<line x1="659.7" y1="260.3" x2="665.3" y2="260.3" stroke="#3a3a3a" stroke-width="0.95"/>
<line x1="659.7" y1="281.2" x2="665.3" y2="281.2" stroke="#3a3a3a" stroke-width="0.95"/>
<rect x="618.71" y="260.2" width="12.5" height="92.31" fill="#dbd9da" stroke="#383838" stroke-width="1.1"/>
<path d="M618.71 249.9V229.4H631.21V249.9" fill="#dbd9da" stroke="#383838" stroke-width="1.1"/>
<line x1="624.5" y1="235.2" x2="624.5" y2="223.5" stroke="#3a3a3a" stroke-width="0.95"/>
<line x1="621.5" y1="223.5" x2="627.5" y2="223.5" stroke="#3a3a3a" stroke-width="0.95"/>
<line x1="621.5" y1="235.2" x2="627.5" y2="235.2" stroke="#3a3a3a" stroke-width="0.95"/>
<rect x="540.4" y="250.5" width="131.1" height="9.1" fill="#fff"/>
<path d="M539.4 249.9V219.1H672.5V352.5H539.4V260.2" fill="none" stroke="#555555" stroke-width="1.2"/>
<line x1="539.4" y1="249.9" x2="671" y2="249.9" stroke="#262626" stroke-width="1.25" stroke-dasharray="1.9 1.4"/>
<line x1="539.4" y1="260.2" x2="671" y2="260.2" stroke="#262626" stroke-width="1.25" stroke-dasharray="1.9 1.4"/>
<line x1="536" y1="219.1" x2="539.4" y2="219.1" stroke="#555555" stroke-width="1.2"/>
<text x="534.2" y="222.3" font-size="9.2" text-anchor="end" fill="#222">100</text>
<line x1="536" y1="229.37" x2="542" y2="229.37" stroke="#555555" stroke-width="1.2"/>
<text x="534.2" y="232.57" font-size="9.2" text-anchor="end" fill="#222">80</text>
<line x1="536" y1="239.63" x2="542" y2="239.63" stroke="#555555" stroke-width="1.2"/>
<text x="534.2" y="242.83" font-size="9.2" text-anchor="end" fill="#222">60</text>
<line x1="536" y1="249.9" x2="543.7" y2="249.9" stroke="#555555" stroke-width="1.2"/>
<text x="534.2" y="253.1" font-size="9.2" text-anchor="end" fill="#222">40</text>
<line x1="536" y1="260.2" x2="543.7" y2="260.2" stroke="#555555" stroke-width="1.2"/>
<text x="534.2" y="263.4" font-size="9.2" text-anchor="end" fill="#222">30</text>
<line x1="536" y1="290.97" x2="539.4" y2="290.97" stroke="#555555" stroke-width="1.2"/>
<text x="534.2" y="294.17" font-size="9.2" text-anchor="end" fill="#222">20</text>
<line x1="536" y1="321.73" x2="539.4" y2="321.73" stroke="#555555" stroke-width="1.2"/>
<text x="534.2" y="324.93" font-size="9.2" text-anchor="end" fill="#222">10</text>
<line x1="536" y1="352.5" x2="539.4" y2="352.5" stroke="#555555" stroke-width="1.2"/>
<text x="534.2" y="355.7" font-size="9.2" text-anchor="end" fill="#222">0</text>
<line x1="548.91" y1="352.5" x2="548.91" y2="355.9" stroke="#555555" stroke-width="1.2"/>
<line x1="567.92" y1="352.5" x2="567.92" y2="355.9" stroke="#555555" stroke-width="1.2"/>
<line x1="586.94" y1="352.5" x2="586.94" y2="355.9" stroke="#555555" stroke-width="1.2"/>
<line x1="605.95" y1="352.5" x2="605.95" y2="355.9" stroke="#555555" stroke-width="1.2"/>
<line x1="624.96" y1="352.5" x2="624.96" y2="355.9" stroke="#555555" stroke-width="1.2"/>
<line x1="643.98" y1="352.5" x2="643.98" y2="355.9" stroke="#555555" stroke-width="1.2"/>
<line x1="662.99" y1="352.5" x2="662.99" y2="355.9" stroke="#555555" stroke-width="1.2"/>
<text x="552.21" y="364.9" font-size="9.0" text-anchor="end" fill="#1a1a1a" stroke="#1a1a1a" stroke-width="0.1" transform="rotate(-45 552.21 364.9)">Spleen</text>
<text x="571.22" y="364.9" font-size="9.0" text-anchor="end" fill="#1a1a1a" stroke="#1a1a1a" stroke-width="0.1" transform="rotate(-45 571.22 364.9)">Heart</text>
<text x="590.24" y="364.9" font-size="9.0" text-anchor="end" fill="#1a1a1a" stroke="#1a1a1a" stroke-width="0.1" transform="rotate(-45 590.24 364.9)">Muscle</text>
<text x="609.25" y="364.9" font-size="9.0" text-anchor="end" fill="#1a1a1a" stroke="#1a1a1a" stroke-width="0.1" transform="rotate(-45 609.25 364.9)">Brain</text>
<text x="628.26" y="364.9" font-size="9.0" text-anchor="end" fill="#1a1a1a" stroke="#1a1a1a" stroke-width="0.1" transform="rotate(-45 628.26 364.9)">Liver</text>
<text x="647.28" y="364.9" font-size="9.0" text-anchor="end" fill="#1a1a1a" stroke="#1a1a1a" stroke-width="0.1" transform="rotate(-45 647.28 364.9)">Lung</text>
<text x="666.29" y="364.9" font-size="9.0" text-anchor="end" fill="#1a1a1a" stroke="#1a1a1a" stroke-width="0.1" transform="rotate(-45 666.29 364.9)">Kidney</text>
</svg>
</body></html>
